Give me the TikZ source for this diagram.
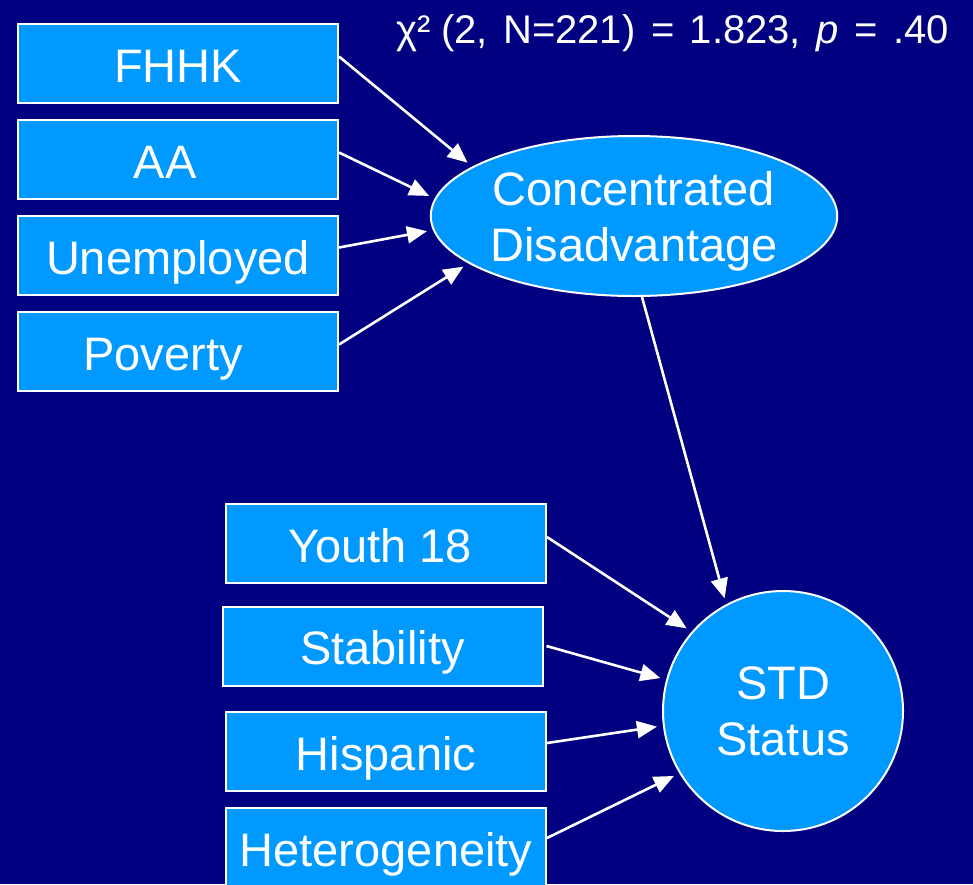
\documentclass[tikz,border=0pt]{standalone}
\usepackage{fontspec}
\setmainfont{Liberation Sans}
\usetikzlibrary{arrows.meta,shapes.geometric}
\definecolor{navybg}{HTML}{000080}
\definecolor{boxblue}{HTML}{0099FF}
\begin{document}
\begin{tikzpicture}[x=1pt,y=-1pt,
  varbox/.style={draw=white,line width=2pt,fill=boxblue,rectangle,minimum width=320pt,minimum height=79pt,inner sep=0pt,text height=38pt,text depth=1pt,text=white,font=\fontsize{47}{56}\selectfont},
  latent/.style={draw=white,line width=2pt,fill=boxblue,text=white,inner sep=0pt,align=center,font=\fontsize{47}{56}\selectfont},
  path/.style={draw=white,line width=2.6pt,-{Triangle[length=20pt,width=17pt]},shorten >=6pt}]
\fill[navybg] (0,0) rectangle (973,884);
\clip (0,0) rectangle (973,884);
\node[varbox] (fhhk) at (178,63.5) {FHHK};
\node[varbox] (aa) at (178,159.5) {AA\hspace*{26pt}};
\node[varbox] (unemp) at (178,255.5) {Unemployed};
\node[varbox] (pov) at (178,351.5) {Poverty\hspace*{30pt}};
\node[latent,ellipse,minimum width=400pt,minimum height=160pt,text depth=0pt] (cd) at (634,216) {Concentrated\\Disadvantage};
\node[varbox] (youth) at (386,543.5) {Youth 18\hspace*{12pt}};
\node[varbox] (stab) at (382.5,646) {Stability};
\node[varbox] (hisp) at (386,751.5) {Hispanic};
\node[varbox] (het) at (386,847.5) {Heterogeneity};
\node[latent,circle,minimum size=240pt] (std) at (783,711) {STD\\Status};
\node[anchor=base east,text=white,inner sep=0pt,font=\fontsize{40}{46}\selectfont] (chi) at (949,43.5) {\spaceskip=15.5pt χ²\hspace{10pt}(2, N=221) = 1.823, \textit{p} = .40};
\draw[path] ([yshift=7pt]fhhk.east) -- (cd.163);
\draw[path] ([yshift=7pt]aa.east) -- (cd.175);
\draw[path] ([yshift=8pt]unemp.east) -- (cd.184.5);
\draw[path] ([yshift=7pt]pov.east) -- (cd.196.7);
\draw[path] ([xshift=8pt]cd.south) -- (std.118.5);
\draw[path] ([yshift=6.5pt]youth.east) -- (std.139.5);
\draw[path] ([xshift=3pt]stab.east) -- (std.165.7);
\draw[path] ([yshift=8.5pt]hisp.east) -- (std.187.9);
\draw[path] ([yshift=9.5pt]het.east) -- (std.211.1);
\end{tikzpicture}
\end{document}
